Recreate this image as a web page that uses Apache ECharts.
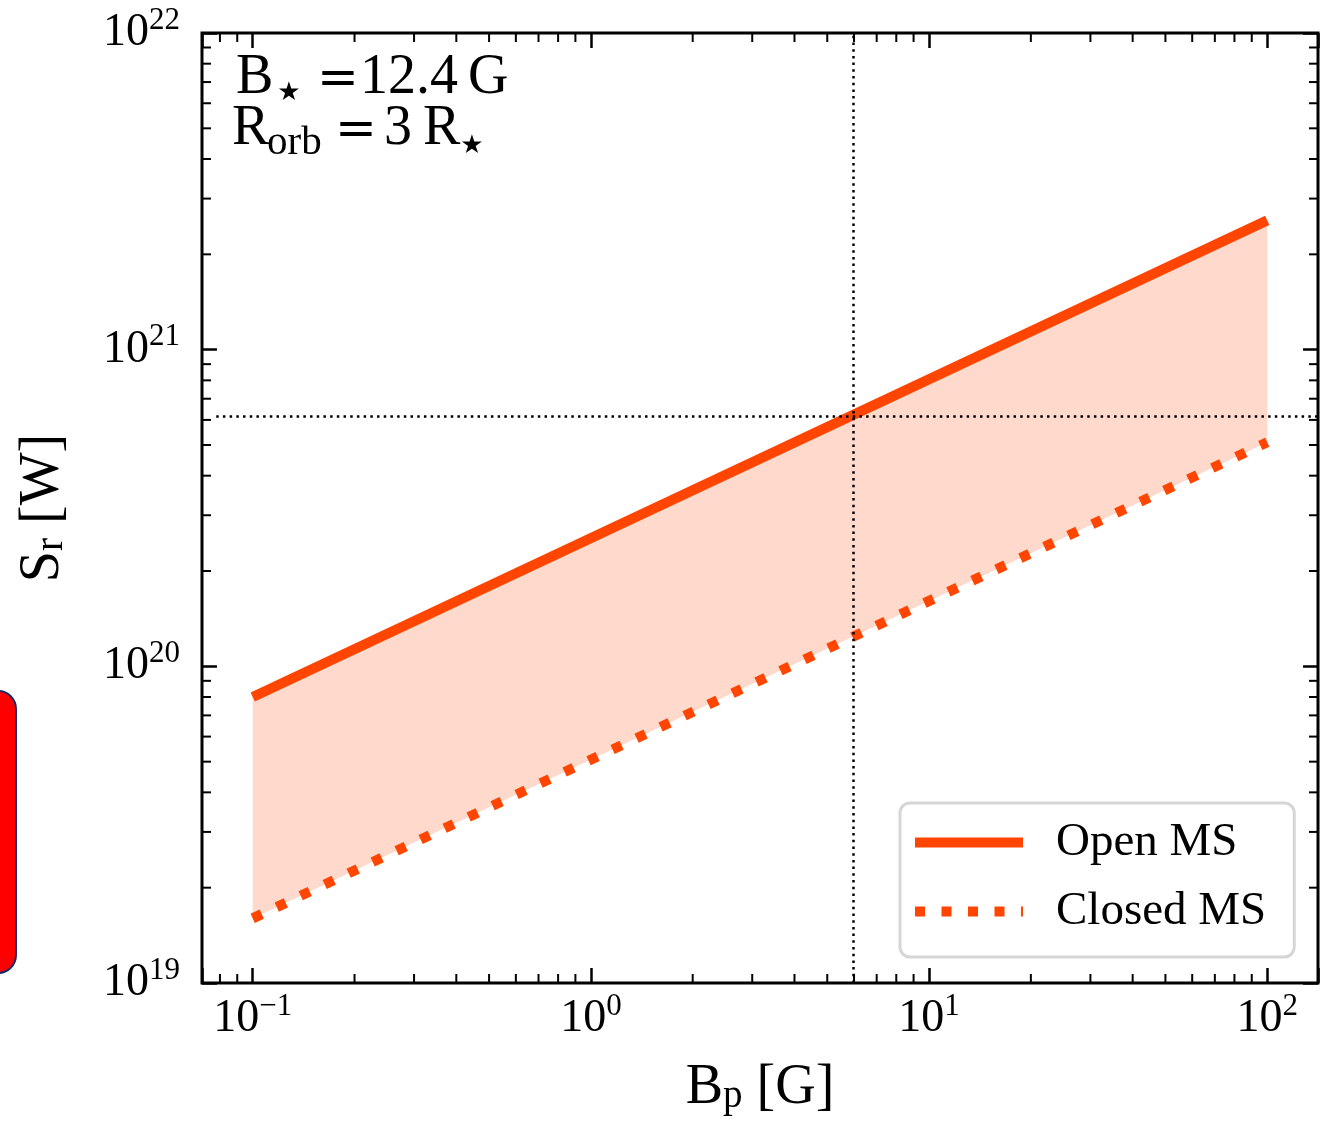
<!DOCTYPE html>
<html><head><meta charset="utf-8">
<script src="https://cdn.jsdelivr.net/npm/echarts@6/dist/echarts.min.js"></script>
<style>html,body{margin:0;padding:0;background:#fff}#c{width:1337px;height:1123px}</style>
</head><body><div id="c"></div>
<script>
// ---- data ----
const bpValues = [0.1, 100];            // B_p [G]
const openMS = [8.0e19, 2.56e21];        // S_r [W], open magnetosphere
const closedMS = [1.6e19, 5.1e20];       // S_r [W], closed magnetosphere
const refBp = 5.95;                      // vertical dotted reference line
const refSr = 6.15e20;                   // horizontal dotted reference line
const refLineX = [0.078, 141];           // extent of horizontal reference line
const xMinorTicks = [0.08, 0.09, 0.2, 0.3, 0.4, 0.5, 0.6, 0.7, 0.8, 0.9,
  2, 3, 4, 5, 6, 7, 8, 9, 20, 30, 40, 50, 60, 70, 80, 90];
const yMinorTicks = [2e19, 3e19, 4e19, 5e19, 6e19, 7e19, 8e19, 9e19,
  2e20, 3e20, 4e20, 5e20, 6e20, 7e20, 8e20, 9e20,
  2e21, 3e21, 4e21, 5e21, 6e21, 7e21, 8e21, 9e21];
const xRange = [0.0708, 141.3];
const yRange = [1e19, 1e22];
const seriesNames = ['Open MS', 'Closed MS'];

const ORANGE = '#ff4500';
const SERIF = 'Liberation Serif';
const DOTTED = [10, 16.5];

function powLabel(v) {
  const l = Math.log10(v);
  const e = Math.round(l);
  if (Math.abs(l - e) > 1e-6) return '';
  return '{b|10}{s|' + String(e).replace('-', '\u2212') + '}';
}
const labelRich = {
  b: { fontSize: 46, fontFamily: SERIF, color: '#000', lineHeight: 56 },
  s: { fontSize: 31, fontFamily: SERIF, color: '#000', lineHeight: 31, verticalAlign: 'top' }
};
const nameRich = {
  b: { fontSize: 56, fontFamily: SERIF, color: '#000', lineHeight: 56 },
  sub: { fontSize: 39, fontFamily: SERIF, color: '#000', lineHeight: 33, verticalAlign: 'bottom' }
};
const majorTick = { show: true, inside: true, length: 15, lineStyle: { color: '#000', width: 2.5 } };

function minorTickSeries(values, isX) {
  return {
    type: 'custom', z: 6, silent: true,
    data: values.map(v => isX ? [v, 1e20] : [1, v]),
    encode: { x: 0, y: 1 },
    renderItem: function (params, api) {
      const cs = params.coordSys;
      const p = api.coord([api.value(0), api.value(1)]);
      const st = { stroke: '#000', lineWidth: 2 };
      const L = 9;
      if (isX) {
        const x = p[0];
        return { type: 'group', children: [
          { type: 'line', shape: { x1: x, y1: cs.y + cs.height, x2: x, y2: cs.y + cs.height - L }, style: st },
          { type: 'line', shape: { x1: x, y1: cs.y, x2: x, y2: cs.y + L }, style: st }
        ]};
      } else {
        const y = p[1];
        return { type: 'group', children: [
          { type: 'line', shape: { x1: cs.x, y1: y, x2: cs.x + L, y2: y }, style: st },
          { type: 'line', shape: { x1: cs.x + cs.width, y1: y, x2: cs.x + cs.width - L, y2: y }, style: st }
        ]};
      }
    }
  };
}

function txt(x, y, text, font, align) {
  return { type: 'text', x: x, y: y, z: 100, silent: true,
    style: { text: text, font: font, fill: '#000', align: align || 'left', verticalAlign: 'middle' } };
}
const F56 = '56px "Liberation Serif"';
const FEQ = '50px "DejaVu Serif"';
const FSTAR = '26px "DejaVu Sans"';

const chart = echarts.init(document.getElementById('c'), null, { renderer: 'canvas' });
const option = {
  animation: false,
  backgroundColor: '#fff',
  grid: { left: 202, right: 19, top: 33, bottom: 140, show: true, borderColor: '#000', borderWidth: 3, backgroundColor: 'transparent' },
  xAxis: [
    { type: 'log', logBase: 10, min: xRange[0], max: xRange[1], position: 'bottom',
      axisLine: { show: false }, axisTick: majorTick, splitLine: { show: false }, minorTick: { show: false },
      axisLabel: { formatter: powLabel, rich: labelRich, margin: 8 },
      name: '{b|B}{sub|p}{b| [G]}', nameLocation: 'middle', nameGap: 77,
      nameTextStyle: { rich: nameRich } },
    { type: 'log', logBase: 10, min: xRange[0], max: xRange[1], position: 'top',
      axisLine: { show: false }, axisTick: majorTick, splitLine: { show: false }, axisLabel: { show: false } }
  ],
  yAxis: [
    { type: 'log', logBase: 10, min: yRange[0], max: yRange[1], position: 'left',
      axisLine: { show: false }, axisTick: majorTick, splitLine: { show: false }, minorTick: { show: false },
      axisLabel: { formatter: powLabel, rich: labelRich, margin: 22 },
      name: '{b|S}{sub|r}{b| [W]}', nameLocation: 'middle', nameGap: 131, nameRotate: 90,
      nameTextStyle: { rich: nameRich } },
    { type: 'log', logBase: 10, min: yRange[0], max: yRange[1], position: 'right',
      axisLine: { show: false }, axisTick: majorTick, splitLine: { show: false }, axisLabel: { show: false } }
  ],
  legend: {
    data: [
      { name: seriesNames[0], lineStyle: { width: 10, type: 'solid', color: ORANGE } },
      { name: seriesNames[1], lineStyle: { width: 10, type: DOTTED, color: ORANGE } }
    ],
    orient: 'vertical', left: 900, top: 803,
    padding: [16, 28, 22, 10], itemGap: 22, itemWidth: 108, itemHeight: 10,
    backgroundColor: '#fff', borderColor: '#d6d6d6', borderWidth: 3, borderRadius: 10,
    itemStyle: { color: 'rgba(0,0,0,0)', borderWidth: 0, opacity: 0 },
    lineStyle: { width: 10 },
    textStyle: { fontSize: 47, fontFamily: SERIF, color: '#000', lineHeight: 47, padding: [0, 0, 0, 28] },
    selectedMode: false
  },
  series: [
    { type: 'custom', name: 'band', z: 1, silent: true,
      data: bpValues.map((b, i) => [b, openMS[i], closedMS[i]]),
      encode: { x: 0, y: [1, 2] },
      renderItem: function (params, api) {
        if (params.dataIndex !== 0) return null;
        const pts = [];
        for (let i = 0; i < bpValues.length; i++) pts.push(api.coord([bpValues[i], openMS[i]]));
        for (let i = bpValues.length - 1; i >= 0; i--) pts.push(api.coord([bpValues[i], closedMS[i]]));
        return { type: 'polygon', shape: { points: pts }, style: { fill: 'rgba(255,69,0,0.2)' } };
      }
    },
    { type: 'line', name: seriesNames[0], z: 3, symbol: 'none', color: ORANGE,
      data: bpValues.map((b, i) => [b, openMS[i]]),
      lineStyle: { color: ORANGE, width: 10, type: 'solid', cap: 'butt' } },
    { type: 'line', name: seriesNames[1], z: 3, symbol: 'none', color: ORANGE,
      data: bpValues.map((b, i) => [b, closedMS[i]]),
      lineStyle: { color: ORANGE, width: 10, type: DOTTED, cap: 'butt' } },
    { type: 'line', name: 'ref', z: 5, symbol: 'none', data: [],
      markLine: { silent: true, symbol: ['none', 'none'], label: { show: false },
        lineStyle: { color: '#000', width: 2.5, type: [2.5, 4.2] },
        data: [
          { xAxis: refBp },
          [{ coord: [refLineX[0], refSr] }, { coord: [refLineX[1], refSr] }]
        ] } },
    minorTickSeries(xMinorTicks, true),
    minorTickSeries(yMinorTicks, false)
  ],
  graphic: [
    { type: 'rect', left: -30, top: 690, z: 100, silent: true, shape: { width: 45, height: 282, r: 18 },
      style: { fill: '#ff0000', stroke: '#1a2a6c', lineWidth: 2 } },
    // annotation line 1: B_star = 12.4 G
    txt(236, 78, 'B', F56),
    txt(289, 93, '\u2605', FSTAR, 'center'),
    txt(338, 81, '=', FEQ, 'center'),
    txt(360, 78, '12.4', F56),
    txt(468, 78, 'G', F56),
    // annotation line 2: R_orb = 3 R_star
    txt(232, 129, 'R', F56),
    txt(267, 143, 'orb', '41px "Liberation Serif"'),
    txt(356, 132, '=', FEQ, 'center'),
    txt(384, 129, '3', F56),
    txt(423, 129, 'R', F56),
    txt(472, 146, '\u2605', FSTAR, 'center')
  ]
};
chart.setOption(option);
</script>
</body></html>
